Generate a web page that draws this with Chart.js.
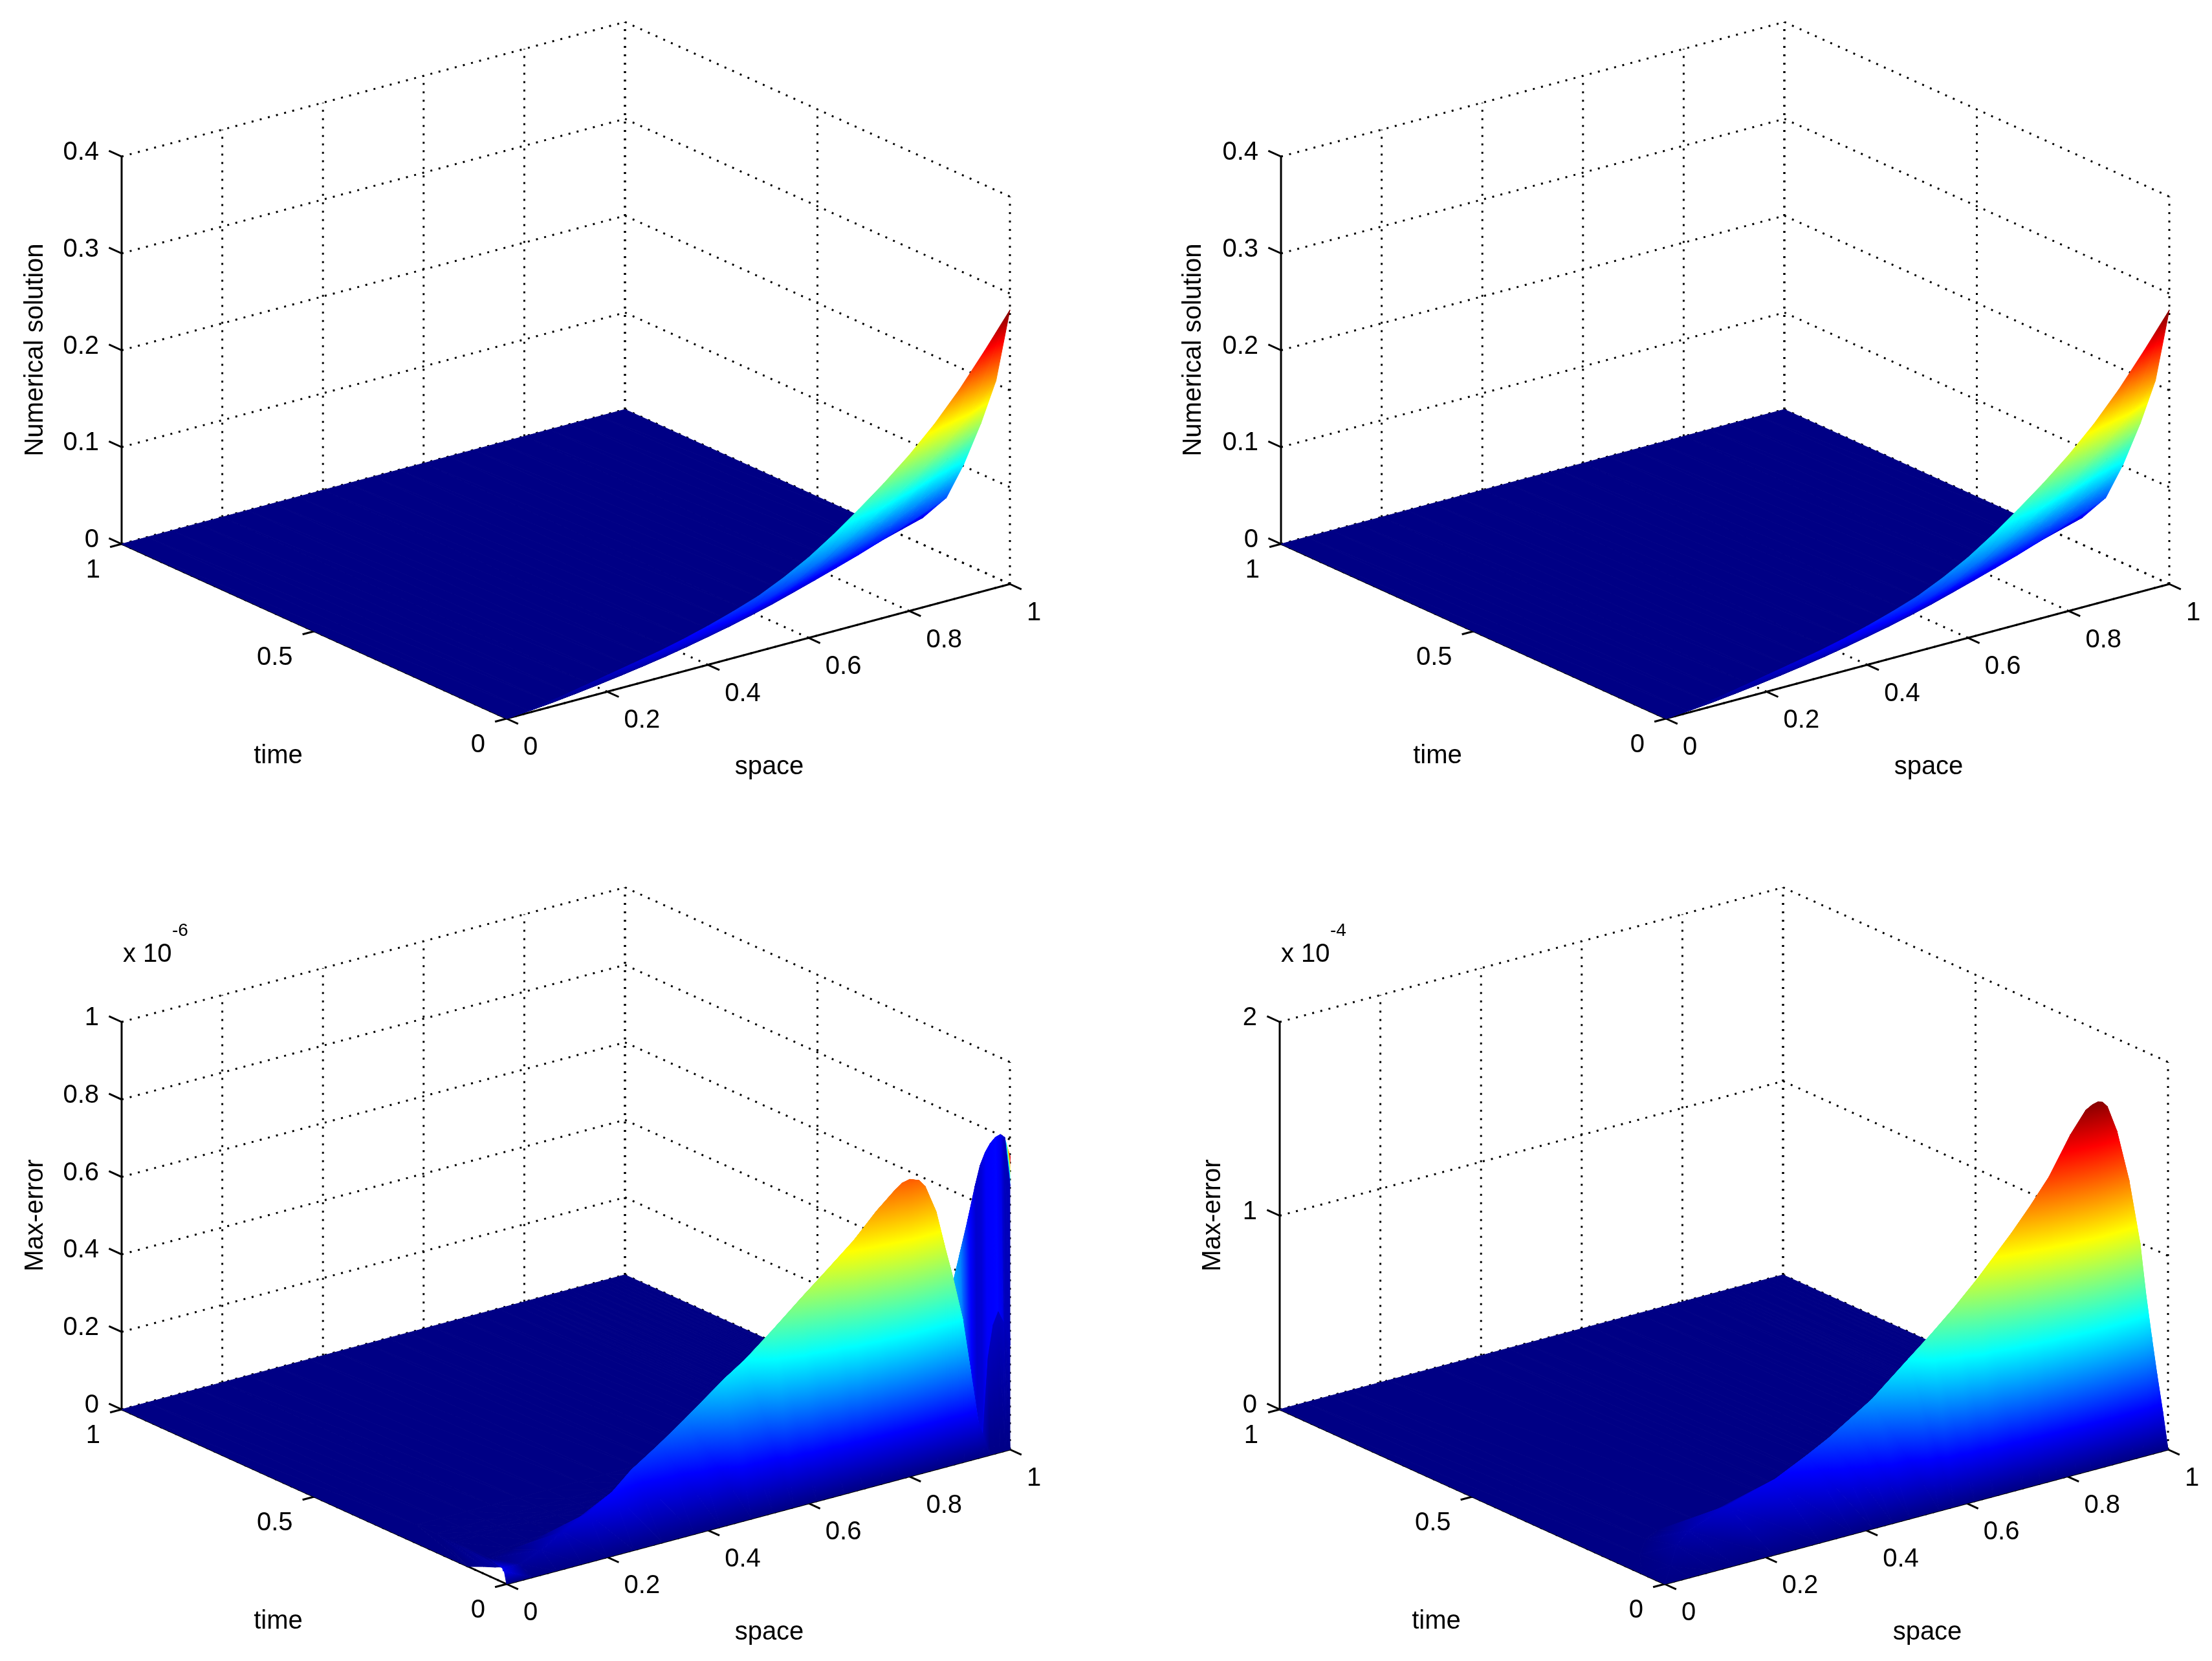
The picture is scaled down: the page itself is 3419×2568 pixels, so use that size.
<!DOCTYPE html>
<html>
<head>
<meta charset="utf-8">
<title>Numerical solution and max-error surfaces</title>
<script src="https://cdn.jsdelivr.net/npm/chart.js@4"></script>
<style>
  html, body { margin: 0; padding: 0; background: #fff; width: 3419px; height: 2568px; overflow: hidden; }
  canvas { position: absolute; }
</style>
</head>
<body>
<canvas id="panel1"></canvas>
<canvas id="panel2"></canvas>
<canvas id="panel3"></canvas>
<canvas id="panel4"></canvas>
<script>
// Axis ticks
var spaceTicks = [0, 0.2, 0.4, 0.6, 0.8, 1];
var timeTicks = [0, 0.5, 1];
var solutionTicks = [0, 0.1, 0.2, 0.3, 0.4];
var error6Ticks = [0, 0.2, 0.4, 0.6, 0.8, 1];
var error4Ticks = [0, 1, 2];

// Mesh nodes are read per column: each row has its own time at each space value,
// because the steep ramp follows a slanted line across the floor.

// Numerical solution (top row, both panels look the same)
var solutionSpace = [0, 0.05, 0.1, 0.15, 0.2, 0.25, 0.3, 0.35, 0.4, 0.45, 0.5, 0.55, 0.6, 0.65, 0.7, 0.75, 0.8, 0.85, 0.9, 0.95, 1];
var solutionTime = [
  [0, 0, 0, 0, 0, 0, 0, 0, 0, 0, 0, 0, 0, 0, 0, 0, 0, 0, 0, 0, 0],
  [0, 0.001, 0.002, 0.0034, 0.0048, 0.0065, 0.0083, 0.0102, 0.0122, 0.0144, 0.0166, 0.0187, 0.0209, 0.023, 0.0251, 0.0271, 0.029, 0.031, 0.0328, 0.0344, 0.036],
  [0, 0.002, 0.0043, 0.007, 0.01, 0.0135, 0.0173, 0.0213, 0.0255, 0.03, 0.0345, 0.039, 0.0435, 0.048, 0.0523, 0.0565, 0.0605, 0.0645, 0.0683, 0.0718, 0.075],
  [0, 0.0032, 0.0068, 0.0112, 0.016, 0.0216, 0.0276, 0.034, 0.0408, 0.048, 0.0552, 0.0624, 0.0696, 0.0768, 0.0836, 0.0904, 0.0968, 0.1032, 0.1092, 0.1148, 0.12],
  [0, 0.0044, 0.0094, 0.0154, 0.022, 0.0297, 0.038, 0.0468, 0.0561, 0.066, 0.0759, 0.0858, 0.0957, 0.1056, 0.115, 0.1243, 0.1331, 0.1419, 0.1502, 0.1579, 0.165],
  [0, 0.006, 0.0128, 0.021, 0.03, 0.0405, 0.0518, 0.0638, 0.0765, 0.09, 0.1035, 0.117, 0.1305, 0.144, 0.1568, 0.1695, 0.1815, 0.1935, 0.2048, 0.2153, 0.225],
  [0, 0.008, 0.017, 0.028, 0.04, 0.054, 0.069, 0.085, 0.102, 0.12, 0.138, 0.156, 0.174, 0.192, 0.209, 0.226, 0.242, 0.258, 0.273, 0.287, 0.3],
  [1, 1, 1, 1, 1, 1, 1, 1, 1, 1, 1, 1, 1, 1, 1, 1, 1, 1, 1, 1, 1]
];
var solutionValues = [
  [0, 0.003, 0.007, 0.012, 0.017, 0.022, 0.027, 0.033, 0.04, 0.048, 0.057, 0.069, 0.083, 0.1, 0.119, 0.139, 0.161, 0.186, 0.215, 0.248, 0.283],
  [0, 0.0022, 0.005, 0.0086, 0.0122, 0.0158, 0.0194, 0.0238, 0.0288, 0.0346, 0.041, 0.0497, 0.0598, 0.072, 0.0857, 0.1001, 0.1159, 0.1339, 0.1548, 0.1786, 0.2038],
  [0, 0.0016, 0.0038, 0.0065, 0.0092, 0.0119, 0.0146, 0.0178, 0.0216, 0.0259, 0.0308, 0.0373, 0.0448, 0.054, 0.0643, 0.0751, 0.0869, 0.1004, 0.1161, 0.1339, 0.1528],
  [0, 0.0011, 0.0025, 0.0043, 0.0061, 0.0079, 0.0097, 0.0119, 0.0144, 0.0173, 0.0205, 0.0248, 0.0299, 0.036, 0.0428, 0.05, 0.058, 0.067, 0.0774, 0.0893, 0.1019],
  [0, 0.0006, 0.0015, 0.0025, 0.0036, 0.0046, 0.0057, 0.0069, 0.0084, 0.0101, 0.012, 0.0145, 0.0174, 0.021, 0.025, 0.0292, 0.0338, 0.0391, 0.0452, 0.0521, 0.0594],
  [0, 0.0003, 0.0007, 0.0012, 0.0017, 0.0022, 0.0027, 0.0033, 0.004, 0.0048, 0.0057, 0.0069, 0.0083, 0.01, 0.0119, 0.0139, 0.0161, 0.0186, 0.0215, 0.0248, 0.0283],
  [0, 0, 0, 0, 0, 0, 0, 0, 0, 0, 0, 0, 0, 0, 0, 0, 0, 0, 0, 0, 0],
  [0, 0, 0, 0, 0, 0, 0, 0, 0, 0, 0, 0, 0, 0, 0, 0, 0, 0, 0, 0, 0]
];

// Max-error x 10^-6 (bottom left)
var error6Space = [0, 0.05, 0.1, 0.15, 0.2, 0.253, 0.31, 0.373, 0.425, 0.487, 0.529, 0.57, 0.615, 0.669, 0.707, 0.747, 0.779, 0.793, 0.8066, 0.8246, 0.836, 0.858, 0.875, 0.888, 0.909, 0.925, 0.94, 0.95, 0.96, 0.97, 0.98, 0.99, 0.994, 1];
var error6Time = [
  [0, 0, 0, 0, 0, 0, 0, 0, 0, 0, 0, 0, 0, 0, 0, 0, 0, 0, 0, 0, 0, 0, 0, 0, 0, 0, 0, 0, 0, 0, 0, 0, 0, 0],
  [0.006, 0.03, 0.04, 0.05, 0.05, 0.055, 0.08, 0.09, 0.09, 0.07, 0.07, 0.05, 0.04, 0.03, 0.02, 0.015, 0.01, 0.008, 0.006, 0.006, 0.006, 0.006, 0.006, 0.004, 0.004, 0.004, 0.004, 0.004, 0.004, 0.004, 0.004, 0.004, 0.004, 0],
  [0.009, 0.0315, 0.0415, 0.0515, 0.0515, 0.0565, 0.0815, 0.0915, 0.0915, 0.0715, 0.0715, 0.0515, 0.0415, 0.0315, 0.0215, 0.0165, 0.0115, 0.0095, 0.0075, 0.0075, 0.0075, 0.0075, 0.0075, 0.006, 0.006, 0.006, 0.006, 0.006, 0.006, 0.006, 0.006, 0.006, 0.006, 0],
  [0.0105, 0.11, 0.12, 0.13, 0.13, 0.135, 0.15, 0.16, 0.16, 0.14, 0.13, 0.1, 0.08, 0.06, 0.05, 0.045, 0.04, 0.038, 0.036, 0.036, 0.036, 0.036, 0.036, 0.0105, 0.0105, 0.0105, 0.0105, 0.0105, 0.0105, 0.0105, 0.0105, 0.0105, 0.006, 0],
  [0.012, 0.12, 0.13, 0.14, 0.14, 0.145, 0.16, 0.17, 0.17, 0.15, 0.14, 0.11, 0.09, 0.07, 0.06, 0.055, 0.05, 0.048, 0.046, 0.046, 0.046, 0.046, 0.046, 0.012, 0.012, 0.012, 0.012, 0.012, 0.012, 0.012, 0.012, 0.012, 0.0065, 0],
  [0.02, 0.2, 0.2, 0.2, 0.2, 0.2, 0.2, 0.2, 0.2, 0.2, 0.2, 0.2, 0.2, 0.2, 0.2, 0.2, 0.2, 0.2, 0.2, 0.2, 0.2, 0.2, 0.2, 0.03, 0.03, 0.03, 0.03, 0.03, 0.03, 0.03, 0.03, 0.03, 0.03, 0.03],
  [0.03, 0.22, 0.22, 0.22, 0.22, 0.22, 0.22, 0.22, 0.22, 0.22, 0.22, 0.22, 0.22, 0.22, 0.22, 0.22, 0.22, 0.22, 0.22, 0.22, 0.22, 0.22, 0.22, 0.22, 0.22, 0.22, 0.22, 0.22, 0.22, 0.22, 0.22, 0.22, 0.22, 0.22],
  [0.06, 0.25, 0.25, 0.25, 0.25, 0.25, 0.25, 0.25, 0.25, 0.25, 0.25, 0.25, 0.25, 0.25, 0.25, 0.25, 0.25, 0.25, 0.25, 0.25, 0.25, 0.25, 0.25, 0.25, 0.25, 0.25, 0.25, 0.25, 0.25, 0.25, 0.25, 0.25, 0.25, 0.25],
  [0.1, 0.3, 0.3, 0.3, 0.3, 0.3, 0.3, 0.3, 0.3, 0.3, 0.3, 0.3, 0.3, 0.3, 0.3, 0.3, 0.3, 0.3, 0.3, 0.3, 0.3, 0.3, 0.3, 0.3, 0.3, 0.3, 0.3, 0.3, 0.3, 0.3, 0.3, 0.3, 0.3, 0.3],
  [1, 1, 1, 1, 1, 1, 1, 1, 1, 1, 1, 1, 1, 1, 1, 1, 1, 1, 1, 1, 1, 1, 1, 1, 1, 1, 1, 1, 1, 1, 1, 1, 1, 1]
];
var error6Values = [
  [0, 0, 0, 0, 0, 0, 0, 0, 0, 0, 0, 0, 0, 0, 0, 0, 0, 0, 0, 0, 0, 0, 0, 0, 0, 0, 0, 0, 0, 0, 0, 0, 0, 0],
  [0.03, 0.02, 0.035, 0.06, 0.09, 0.124, 0.15, 0.19, 0.238, 0.328, 0.364, 0.4375, 0.503, 0.576, 0.633, 0.695, 0.739, 0.755, 0.761, 0.752, 0.734, 0.66, 0.565, 0.49, 0.366, 0.225, 0.09, 0.05, 0.25, 0.33, 0.36, 0.33, 0.31, 0.27],
  [0.03, 0.02, 0.035, 0.06, 0.09, 0.124, 0.15, 0.19, 0.238, 0.328, 0.364, 0.4375, 0.503, 0.576, 0.633, 0.695, 0.739, 0.755, 0.761, 0.752, 0.734, 0.66, 0.565, 0.49, 0.366, 0.225, 0.09, 0.05, 0.25, 0.33, 0.36, 0.33, 0.31, 0.27],
  [0.036, 0, 0, 0, 0, 0, 0, 0, 0, 0, 0, 0, 0, 0, 0, 0, 0, 0, 0, 0, 0, 0, 0, 0.42, 0.527, 0.61, 0.695, 0.745, 0.775, 0.795, 0.807, 0.811, 0.805, 0.68],
  [0.038, 0, 0, 0, 0, 0, 0, 0, 0, 0, 0, 0, 0, 0, 0, 0, 0, 0, 0, 0, 0, 0, 0, 0.42, 0.527, 0.61, 0.695, 0.745, 0.775, 0.795, 0.807, 0.811, 0.805, 0.757],
  [0.035, 0, 0, 0, 0, 0, 0, 0, 0, 0, 0, 0, 0, 0, 0, 0, 0, 0, 0, 0, 0, 0, 0, 0, 0, 0, 0, 0, 0, 0, 0, 0, 0, 0],
  [0.03, 0, 0, 0, 0, 0, 0, 0, 0, 0, 0, 0, 0, 0, 0, 0, 0, 0, 0, 0, 0, 0, 0, 0, 0, 0, 0, 0, 0, 0, 0, 0, 0, 0],
  [0.018, 0, 0, 0, 0, 0, 0, 0, 0, 0, 0, 0, 0, 0, 0, 0, 0, 0, 0, 0, 0, 0, 0, 0, 0, 0, 0, 0, 0, 0, 0, 0, 0, 0],
  [0, 0, 0, 0, 0, 0, 0, 0, 0, 0, 0, 0, 0, 0, 0, 0, 0, 0, 0, 0, 0, 0, 0, 0, 0, 0, 0, 0, 0, 0, 0, 0, 0, 0],
  [0, 0, 0, 0, 0, 0, 0, 0, 0, 0, 0, 0, 0, 0, 0, 0, 0, 0, 0, 0, 0, 0, 0, 0, 0, 0, 0, 0, 0, 0, 0, 0, 0, 0]
];
// The thin lobe near space = 1 is blue although it is tall, so its colour is read separately
var error6CornerColour = [0.1];
var error6LumpColours = [0.05, 0.05, 0.06, 0.06, 0.06, 0.05, 0.05];
var error6LobeColours = [0.32, 0.25, 0.14, 0.075, 0.08, 0.115, 0.12, 0.125, 0.1, 0.055, 0.05];
var error6EdgeColours = [0.32, 0.25, 0.14, 0.075, 0.08, 0.115, 0.12, 0.125, 0.1, 0.055, 0.88];

// Max-error x 10^-4 (bottom right)
var error4Space = [0, 0.05, 0.1, 0.139, 0.216, 0.31, 0.374, 0.414, 0.453, 0.488, 0.546, 0.575, 0.615, 0.653, 0.712, 0.745, 0.779, 0.8175, 0.846, 0.858, 0.869, 0.878, 0.887, 0.906, 0.93, 0.952, 0.964, 0.975, 0.985, 0.993, 1];
var error4Time = [
  [0, 0, 0, 0, 0, 0, 0, 0, 0, 0, 0, 0, 0, 0, 0, 0, 0, 0, 0, 0, 0, 0, 0, 0, 0, 0, 0, 0, 0, 0, 0],
  [0, 0.05, 0.1, 0.12, 0.12, 0.12, 0.12, 0.115, 0.11, 0.1, 0.08, 0.06, 0.05, 0.04, 0.03, 0.025, 0.02, 0.015, 0.012, 0.011, 0.01, 0.01, 0.01, 0.01, 0.01, 0.01, 0.01, 0.01, 0.01, 0.005, 0],
  [0.06, 0.13, 0.18, 0.2, 0.2, 0.2, 0.2, 0.195, 0.19, 0.18, 0.14, 0.12, 0.1, 0.08, 0.06, 0.055, 0.05, 0.045, 0.042, 0.041, 0.04, 0.04, 0.04, 0.04, 0.04, 0.04, 0.04, 0.04, 0.04, 0.035, 0.03],
  [1, 1, 1, 1, 1, 1, 1, 1, 1, 1, 1, 1, 1, 1, 1, 1, 1, 1, 1, 1, 1, 1, 1, 1, 1, 1, 1, 1, 1, 1, 1]
];
var error4Values = [
  [0, 0, 0, 0, 0, 0, 0, 0, 0, 0, 0, 0, 0, 0, 0, 0, 0, 0, 0, 0, 0, 0, 0, 0, 0, 0, 0, 0, 0, 0, 0],
  [0, 0.012, 0.04, 0.07, 0.146, 0.216, 0.296, 0.363, 0.44, 0.524, 0.712, 0.836, 0.96, 1.09, 1.29, 1.41, 1.543, 1.737, 1.848, 1.868, 1.877, 1.868, 1.84, 1.7, 1.431, 1.09, 0.81, 0.59, 0.4, 0.2, 0],
  [0, 0, 0, 0, 0, 0, 0, 0, 0, 0, 0, 0, 0, 0, 0, 0, 0, 0, 0, 0, 0, 0, 0, 0, 0, 0, 0, 0, 0, 0, 0],
  [0, 0, 0, 0, 0, 0, 0, 0, 0, 0, 0, 0, 0, 0, 0, 0, 0, 0, 0, 0, 0, 0, 0, 0, 0, 0, 0, 0, 0, 0, 0]
];

// Oblique view of the box, in canvas units. origin is space = 0, time = 0, value = 0
var view = { originX: 783, originY: 1111, spaceX: 778, spaceY: -208, timeX: -595, timeY: -270, height: 599 };
var canvasW = 1627, canvasH = 1230;

var panels = [
  { id: 'panel1', left: 0, top: 0, title: 'Numerical solution', titleX: 55, zMax: 0.4, zTicks: solutionTicks, cMax: 0.283,
    space: solutionSpace, time: solutionTime, values: solutionValues, patches: [] },
  { id: 'panel2', left: 1792, top: 0, title: 'Numerical solution', titleX: 53, zMax: 0.4, zTicks: solutionTicks, cMax: 0.283,
    space: solutionSpace, time: solutionTime, values: solutionValues, patches: [] },
  { id: 'panel3', left: 0, top: 1338, title: 'Max-error', titleX: 55, zMax: 1, zTicks: error6Ticks, cMax: 0.97, exponent: '-6',
    space: error6Space, time: error6Time, values: error6Values,
    patches: [
      { row: 1, col: 0, colours: error6CornerColour },
      { row: 2, col: 0, colours: error6CornerColour },
      { row: 3, col: 0, colours: error6CornerColour },
      { row: 4, col: 0, colours: error6CornerColour },
      { row: 1, col: 27, colours: error6LumpColours },
      { row: 2, col: 23, colours: error6LobeColours },
      { row: 3, col: 23, colours: error6LobeColours },
      { row: 4, col: 23, colours: error6EdgeColours }
    ] },
  { id: 'panel4', left: 1790, top: 1338, title: 'Max-error', titleX: 85, zMax: 2, zTicks: error4Ticks, cMax: 1.89, exponent: '-4',
    space: error4Space, time: error4Time, values: error4Values, patches: [] }
];

function project(panel, s, t, z) {
  return {
    x: view.originX + s * view.spaceX + t * view.timeX,
    y: view.originY + s * view.spaceY + t * view.timeY - z / panel.zMax * view.height
  };
}

// Jet colormap
var jetKnots = [[0, 0, 0, 0.52], [0.125, 0, 0, 1], [0.375, 0, 1, 1], [0.625, 1, 1, 0], [0.875, 1, 0, 0], [1, 0.5, 0, 0]];
function jet(v) {
  v = Math.max(0, Math.min(1, v));
  for (var i = 1; i < jetKnots.length; i++) {
    if (v <= jetKnots[i][0]) {
      var a = jetKnots[i - 1], b = jetKnots[i];
      var f = (v - a[0]) / (b[0] - a[0]);
      return 'rgb(' + [1, 2, 3].map(function (k) { return Math.round(255 * (a[k] + (b[k] - a[k]) * f)); }).join(',') + ')';
    }
  }
  return 'rgb(128,0,0)';
}

// One triangle of the mesh, shaded along its own colour gradient
function drawTriangle(ctx, p, q, r, cMax) {
  var area = (q.x - p.x) * (r.y - p.y) - (r.x - p.x) * (q.y - p.y);
  if (Math.abs(area) < 0.05) return;
  var lo = Math.min(p.c, q.c, r.c), hi = Math.max(p.c, q.c, r.c);
  var style;
  if (hi - lo < 1e-9) {
    style = jet(lo / cMax);
  } else {
    var gx = ((q.c - p.c) * (r.y - p.y) - (r.c - p.c) * (q.y - p.y)) / area;
    var gy = ((r.c - p.c) * (q.x - p.x) - (q.c - p.c) * (r.x - p.x)) / area;
    var g2 = gx * gx + gy * gy;
    var low = p.c === lo ? p : (q.c === lo ? q : r);
    var k = (hi - lo) / g2;
    style = ctx.createLinearGradient(low.x, low.y, low.x + gx * k, low.y + gy * k);
    style.addColorStop(0, jet(lo / cMax));
    jetKnots.forEach(function (knot) {
      var c = knot[0] * cMax;
      if (c > lo && c < hi) style.addColorStop((c - lo) / (hi - lo), jet(knot[0]));
    });
    style.addColorStop(1, jet(hi / cMax));
  }
  ctx.fillStyle = style;
  ctx.strokeStyle = style;
  ctx.beginPath();
  ctx.moveTo(p.x, p.y);
  ctx.lineTo(q.x, q.y);
  ctx.lineTo(r.x, r.y);
  ctx.closePath();
  ctx.fill();
  ctx.stroke();
}

// Paints the mesh back to front from the points the scales placed
var surfacePlugin = {
  id: 'surface',
  afterDatasetsDraw: function (chart) {
    var ctx = chart.ctx;
    var panel = chart.config.options.panel;
    var rows = chart.data.datasets.map(function (d, i) { return d.meshRow !== undefined ? i : -1; }).filter(function (i) { return i >= 0; });
    var node = function (i, j) {
      var el = chart.getDatasetMeta(i).data[j];
      return { x: el.x, y: el.y, c: chart.data.datasets[i].data[j].c };
    };
    ctx.save();
    ctx.lineWidth = 1;
    ctx.lineJoin = 'round';
    for (var r = rows.length - 2; r >= 0; r--) {
      for (var j = panel.space.length - 2; j >= 0; j--) {
        var a = node(rows[r], j), b = node(rows[r], j + 1), c = node(rows[r + 1], j + 1), d = node(rows[r + 1], j);
        drawTriangle(ctx, b, c, d, panel.cMax);
        drawTriangle(ctx, a, b, d, panel.cMax);
      }
    }
    ctx.restore();
  }
};

// All the text of a panel
var textPlugin = {
  id: 'panelText',
  afterDraw: function (chart) {
    var ctx = chart.ctx;
    var panel = chart.config.options.panel;
    var px = function (v) { return chart.scales.x.getPixelForValue(v); };
    var py = function (v) { return chart.scales.y.getPixelForValue(v); };
    var put = function (text, x, y, align, size) {
      ctx.font = (size || 40) + 'px "Liberation Sans"';
      ctx.textAlign = align;
      ctx.textBaseline = 'middle';
      ctx.fillText(text, px(x), py(y));
    };
    ctx.save();
    ctx.fillStyle = '#000';
    panel.zTicks.forEach(function (v) {
      put(String(v), 153, project(panel, 0, 1, v).y - 6, 'right');
    });
    timeTicks.forEach(function (v) {
      var p = project(panel, 0, v, 0);
      put(String(v), p.x - 33, p.y + 41, 'right');
    });
    spaceTicks.forEach(function (v) {
      var p = project(panel, v, 0, 0);
      put(String(v), p.x + 26, p.y + 45, 'left');
    });
    put('time', 430, 1169, 'center');
    put('space', 1189, 1186, 'center');
    if (panel.exponent) {
      put('x 10', 190, 138, 'left');
      put(panel.exponent, 266, 101, 'left', 28);
    }
    ctx.translate(px(panel.titleX), py(541));
    ctx.rotate(-Math.PI / 2);
    ctx.font = '40px "Liberation Sans"';
    ctx.textAlign = 'center';
    ctx.textBaseline = 'middle';
    ctx.fillText(panel.title, 0, 0);
    ctx.restore();
  }
};

function lineDataset(points, dotted) {
  return {
    type: 'scatter',
    showLine: true,
    data: points,
    borderColor: '#000',
    borderWidth: 3,
    borderDash: dotted ? [3, 10] : [],
    pointRadius: 0
  };
}

function boxDatasets(panel) {
  var sets = [];
  var top = panel.zMax;
  var p = function (s, t, z) { return project(panel, s, t, z); };
  // dotted grid on the floor and the two back walls
  spaceTicks.forEach(function (s) {
    sets.push(lineDataset([p(s, 0, 0), p(s, 1, 0)], true));
    if (s > 0) sets.push(lineDataset([p(s, 1, 0), p(s, 1, top)], true));
  });
  timeTicks.forEach(function (t) {
    sets.push(lineDataset([p(0, t, 0), p(1, t, 0)], true));
    sets.push(lineDataset([p(1, t, 0), p(1, t, top)], true));
  });
  panel.zTicks.forEach(function (z) {
    sets.push(lineDataset([p(0, 1, z), p(1, 1, z)], true));
    sets.push(lineDataset([p(1, 1, z), p(1, 0, z)], true));
  });
  // solid axes and their tick marks
  sets.push(lineDataset([p(0, 1, 0), p(0, 1, top)], false));
  sets.push(lineDataset([p(0, 0, 0), p(1, 0, 0)], false));
  sets.push(lineDataset([p(0, 0, 0), p(0, 1, 0)], false));
  panel.zTicks.forEach(function (z) { sets.push(lineDataset([p(0, 1, z), p(0, 1.033, z)], false)); });
  spaceTicks.forEach(function (s) { sets.push(lineDataset([p(s, 0, 0), p(s, -0.03, 0)], false)); });
  timeTicks.forEach(function (t) { sets.push(lineDataset([p(0, t, 0), p(-0.023, t, 0)], false)); });
  return sets;
}

function meshDatasets(panel) {
  return panel.time.map(function (row, i) {
    var patches = panel.patches.filter(function (q) { return q.row === i; });
    return {
      type: 'scatter',
      meshRow: i,
      showLine: false,
      pointRadius: 0,
      data: panel.space.map(function (s, j) {
        var z = panel.values[i][j];
        var pt = project(panel, s, row[j], z);
        pt.c = z;
        patches.forEach(function (q) {
          if (j >= q.col && j < q.col + q.colours.length) pt.c = q.colours[j - q.col];
        });
        return pt;
      })
    };
  });
}

panels.forEach(function (panel) {
  var canvas = document.getElementById(panel.id);
  canvas.width = canvasW;
  canvas.height = canvasH;
  canvas.style.left = panel.left + 'px';
  canvas.style.top = panel.top + 'px';
  canvas.style.width = canvasW + 'px';
  canvas.style.height = canvasH + 'px';
  new Chart(canvas.getContext('2d'), {
    type: 'scatter',
    data: { datasets: boxDatasets(panel).concat(meshDatasets(panel)) },
    options: {
      panel: panel,
      responsive: false,
      animation: false,
      devicePixelRatio: 1,
      layout: { padding: 0 },
      plugins: { legend: { display: false }, tooltip: { enabled: false }, title: { display: false } },
      scales: {
        x: { type: 'linear', display: false, min: 0, max: canvasW },
        y: { type: 'linear', display: false, min: 0, max: canvasH, reverse: true }
      }
    },
    plugins: [surfacePlugin, textPlugin]
  });
});
</script>
</body>
</html>
